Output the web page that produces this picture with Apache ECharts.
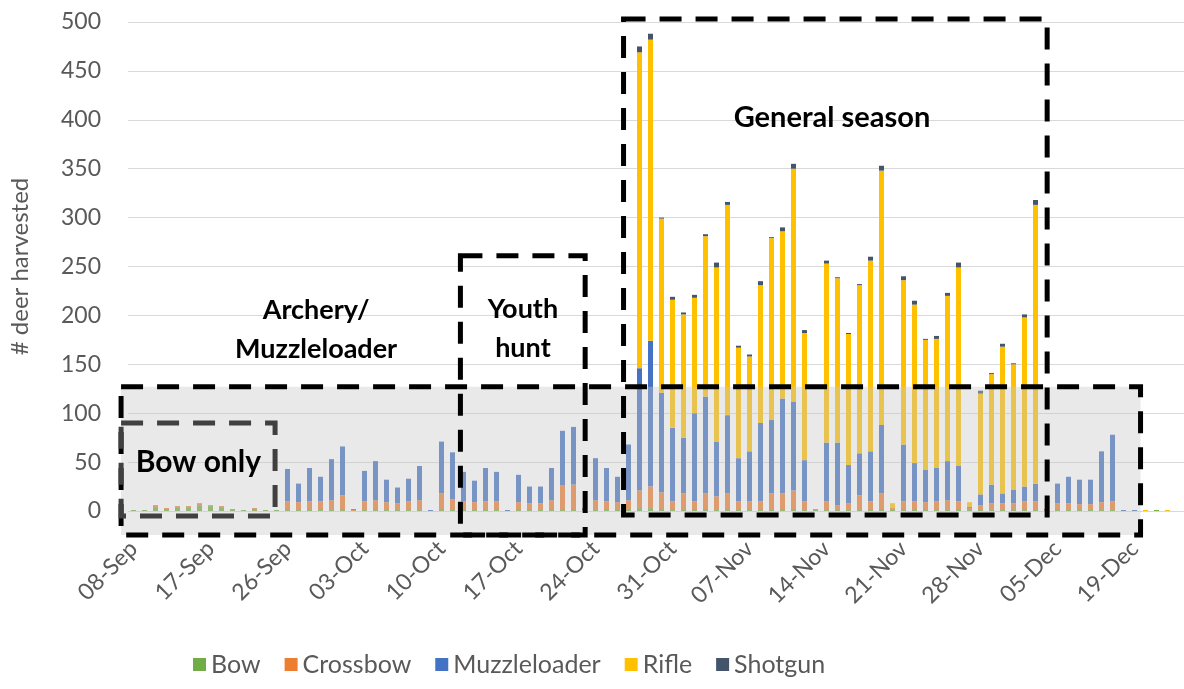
<!DOCTYPE html>
<html>
<head>
<meta charset="utf-8">
<script src="https://cdn.jsdelivr.net/npm/echarts@6/dist/echarts.min.js"></script>
<style>
  html, body { margin: 0; padding: 0; background: #fff; }
  #chart { width: 1184px; height: 689px; }
</style>
</head>
<body>
<div id="chart"></div>
<script>
// daily categories (only days in the harvest table)
var categories = [
  '08-Sep','09-Sep','10-Sep','12-Sep','13-Sep','14-Sep','15-Sep',
  '17-Sep','19-Sep','20-Sep','21-Sep','22-Sep','23-Sep','24-Sep',
  '26-Sep','27-Sep','28-Sep','29-Sep','30-Sep','01-Oct','02-Oct',
  '03-Oct','04-Oct','05-Oct','06-Oct','07-Oct','08-Oct','09-Oct',
  '10-Oct','11-Oct','12-Oct','13-Oct','14-Oct','15-Oct','16-Oct',
  '17-Oct','18-Oct','19-Oct','20-Oct','21-Oct','22-Oct','23-Oct',
  '24-Oct','25-Oct','26-Oct','27-Oct','28-Oct','29-Oct','30-Oct',
  '31-Oct','01-Nov','02-Nov','03-Nov','04-Nov','05-Nov','06-Nov',
  '07-Nov','08-Nov','09-Nov','10-Nov','11-Nov','12-Nov','13-Nov',
  '14-Nov','15-Nov','16-Nov','17-Nov','18-Nov','19-Nov','20-Nov',
  '21-Nov','22-Nov','23-Nov','24-Nov','25-Nov','26-Nov','27-Nov',
  '28-Nov','29-Nov','30-Nov','01-Dec','02-Dec','03-Dec','04-Dec',
  '05-Dec','07-Dec','09-Dec','11-Dec','13-Dec','15-Dec','17-Dec',
  '19-Dec','21-Dec','23-Dec','26-Dec','28-Dec'
];

var bow = [
  1,1,4,2,4,4,6,5,4,1,1,2,1,1,
  2,2,2,2,2,2,0,2,2,2,1,2,2,0,2,2,2,2,2,2,0,2,1,1,2,2,2,0,2,2,2,2,
  3,3,2,2,2,2,2,2,2,2,2,2,2,2,2,2,1,2,1,1,2,2,2,1,2,2,2,2,2,2,1,1,1,1,1,2,2,0,
  1,1,1,1,1,1,0,0,0,1,0,0
];
var crossbow = [
  0,0,2,1,1,1,2,1,1,1,0,1,0,0,
  8,7,8,8,9,14,1,8,9,7,7,8,9,0,16,10,8,7,8,8,0,7,7,7,9,24,25,1,9,8,7,9,
  18,22,17,8,16,8,16,13,16,8,8,8,16,16,19,8,1,8,5,7,14,8,16,2,8,8,7,8,9,8,2,5,7,7,7,8,8,1,
  7,7,6,6,8,9,0,0,0,0,0,0
];
var muzzleloader = [
  0,0,0,0,0,0,0,0,0,0,0,0,0,0,
  33,19,34,25,42,50,1,31,40,23,16,23,35,1,53,48,30,22,34,30,1,28,17,17,33,56,59,2,43,34,26,57,
  125,149,102,75,57,90,99,56,80,44,51,80,75,97,91,42,0,60,64,39,43,51,70,0,58,39,33,34,40,36,1,11,19,10,14,15,18,1,
  20,27,25,25,52,68,1,1,0,0,0,0
];
var rifle = [
  0,0,0,0,0,0,0,0,0,0,0,0,0,0,
  0,0,0,0,0,0,0,0,0,0,0,0,0,0,0,0,0,0,0,0,0,0,0,0,0,0,0,0,0,0,0,0,
  323,308,178,131,126,118,164,178,215,113,97,141,186,171,238,130,0,183,168,134,172,195,260,5,168,162,133,132,169,203,5,103,113,150,128,173,285,0,
  0,0,0,0,0,0,0,0,1,0,1,0
];
var shotgun = [
  0,0,0,0,0,0,0,0,0,0,0,0,0,0,
  0,0,0,0,0,0,0,0,0,0,0,0,0,0,0,0,0,0,0,0,0,0,0,0,0,0,0,0,0,0,0,0,
  6,6,1,3,2,3,2,5,3,2,2,4,1,4,5,3,0,3,1,1,1,4,5,0,4,4,1,3,3,5,0,3,1,3,1,3,5,0,
  0,0,0,0,0,0,0,0,0,0,0,0
];
var yTicks = [0, 50, 100, 150, 200, 250, 300, 350, 400, 450, 500];

var seriesNames = ['Bow', 'Crossbow', 'Muzzleloader', 'Rifle', 'Shotgun'];
var seriesValues = [bow, crossbow, muzzleloader, rifle, shotgun];
var colors = ['#70AD47', '#ED7D31', '#4472C4', '#FFC000', '#44546A'];

// season boxes drawn on top of the bars (category index / harvest units)
var boxes = [
  { x0: -1.13, x1: 91.55, y0: -24.5, y1: 127, stroke: '#000', fill: 'rgba(200,200,200,0.4)', label: '', size: 27, lx: 0, ly: 0 },
  { x0: -1.13, x1: 12.87, y0: -5, y1: 90, stroke: '#404040', fill: 'none', label: 'Bow only', size: 30, lx: 5.9, ly: 50 },
  { x0: 29.72, x1: 41.06, y0: -24.5, y1: 261, stroke: '#000', fill: 'none', label: 'Youth\nhunt', size: 27, lx: 35.4, ly: 186 },
  { x0: 44.55, x1: 83.06, y0: -4, y1: 503, stroke: '#000', fill: 'none', label: 'General season', size: 29, lx: 63.5, ly: 402 },
  { x0: 0, x1: 0, y0: 0, y1: 0, stroke: 'none', fill: 'none', label: 'Archery/\nMuzzleloader', size: 27, lx: 16.6, ly: 185 }
];

var font = 'Lato';
var chart = echarts.init(document.getElementById('chart'));

var series = seriesNames.map(function (name, k) {
  return {
    name: name,
    type: 'bar',
    stack: 'total',
    barWidth: 5,
    itemStyle: { color: colors[k] },
    data: seriesValues[k]
  };
});

series.push({
  type: 'custom',
  xAxisIndex: 1,
  yAxisIndex: 0,
  z: 10,
  clip: false,
  silent: true,
  encode: { x: [0, 2], y: [1, 3] },
  data: boxes.map(function (b) { return [b.x0, b.y0, b.x1, b.y1]; }),
  renderItem: function (params, api) {
    var b = boxes[params.dataIndex];
    var p0 = api.coord([b.x0, b.y1]);
    var p1 = api.coord([b.x1, b.y0]);
    var tp = api.coord([b.lx, b.ly]);
    var children = [];
    if (b.stroke !== 'none') {
      children.push({
        type: 'rect',
        shape: { x: p0[0], y: p0[1], width: p1[0] - p0[0], height: p1[1] - p0[1] },
        style: { fill: b.fill, stroke: b.stroke, lineWidth: 5, lineDash: [22, 14], lineCap: 'butt' }
      });
    }
    if (b.label) {
      children.push({
        type: 'text',
        x: tp[0],
        y: tp[1],
        style: {
          text: b.label,
          fill: '#000',
          font: 'bold ' + b.size + 'px ' + font,
          align: 'center',
          textAlign: 'center',
          verticalAlign: 'middle',
          textVerticalAlign: 'middle',
          lineHeight: 39
        }
      });
    }
    return { type: 'group', children: children };
  }
});

chart.setOption({
  animation: false,
  color: colors,
  textStyle: { fontFamily: font },
  grid: { left: 127, top: 22, width: 1063, height: 489 },
  legend: {
    data: seriesNames,
    left: 188,
    top: 647,
    itemWidth: 13,
    itemHeight: 13,
    itemGap: 24,
    icon: 'rect',
    textStyle: { fontSize: 25, color: '#595959', fontFamily: font }
  },
  xAxis: [
    {
      type: 'category',
      data: categories,
      axisLine: { show: false },
      axisTick: { show: false },
      axisLabel: {
        interval: 6,
        rotate: 45,
        margin: 34,
        fontSize: 23,
        color: '#595959',
        fontFamily: font
      }
    },
    {
      type: 'value',
      min: -0.5,
      max: categories.length - 0.5,
      show: false
    }
  ],
  yAxis: {
    type: 'value',
    min: yTicks[0],
    max: yTicks[yTicks.length - 1],
    interval: yTicks[1] - yTicks[0],
    name: '# deer harvested',
    nameLocation: 'middle',
    nameGap: 96,
    nameTextStyle: { fontSize: 24, color: '#595959', fontFamily: font },
    axisLine: { show: false },
    axisTick: { show: false },
    axisLabel: { margin: 27, fontSize: 23, color: '#595959', fontFamily: font },
    splitLine: { lineStyle: { color: '#D9D9D9', width: 1 } }
  },
  series: series
});
</script>
</body>
</html>
